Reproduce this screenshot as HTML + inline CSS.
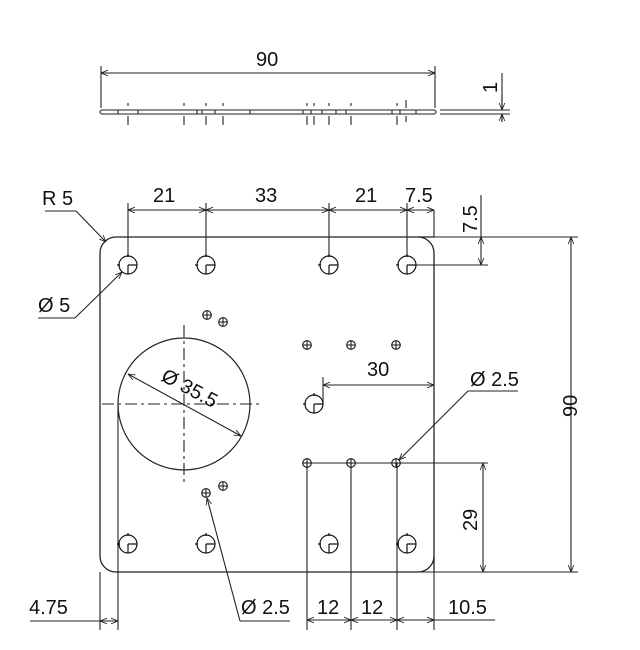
<!DOCTYPE html>
<html><head><meta charset="utf-8"><style>
html,body{margin:0;padding:0;background:#fff;}
svg{display:block;}
text{font-family:"Liberation Sans",sans-serif;font-size:20px;fill:#111;}
</style></head><body>
<svg width="640" height="650" viewBox="0 0 640 650" xmlns="http://www.w3.org/2000/svg">
<defs>
<marker id="a" viewBox="0 0 10 10" refX="10" refY="5" markerWidth="7" markerHeight="7" orient="auto-start-reverse" markerUnits="userSpaceOnUse"><path d="M0,1 L10,5 L0,9" fill="none" stroke="#222" stroke-width="1.2"/></marker>
<g id="bh"><circle r="9" fill="none" stroke="#111" stroke-width="1.2"/><path d="M0,0 H9 M0,0 V9 M-11,0 H-8 M0,-11 V-8" stroke="#111" stroke-width="1.2"/></g>
<g id="sh"><circle r="4.3" fill="none" stroke="#111" stroke-width="1.1"/><path d="M-4.3,0 H4.3 M0,-4.3 V4.3" stroke="#111" stroke-width="1"/></g>
</defs>
<g stroke="#222" stroke-width="1.1" fill="none">
<rect x="100" y="110" width="336" height="4" rx="2"/>
<path d="M440,110 H510 M440,114 H510"/>
<path d="M101,66 V108 M435,66 V108"/>
<line x1="101" y1="73" x2="435" y2="73" marker-start="url(#a)" marker-end="url(#a)"/>
<path d="M502,73 V110 M502,114 V122"/>
<line x1="502" y1="95" x2="502" y2="110" marker-end="url(#a)"/>
<line x1="502" y1="122" x2="502" y2="114" marker-end="url(#a)"/>
<path d="M128,103 V106 M128,116 V125 M184,103 V106 M184,116 V125 M206,103 V106 M206,116 V125 M223,103 V106 M223,116 V125 M307,103 V106 M307,116 V125 M314,103 V106 M314,116 V125 M329,103 V106 M329,116 V125 M351,103 V106 M351,116 V125 M397,103 V106 M397,116 V125 M406,100 V108 M406,116 V122"/>
<path d="M118,110 V114 M138,110 V114 M197,110 V114 M202,110 V114 M215,110 V114 M250,110 V114 M303,110 V114 M311,110 V114 M322,110 V114 M336,110 V114 M346,110 V114 M392,110 V114 M400,110 V114 M416,110 V114"/>
<path d="M116,237 H434 M434,253 V572 M418,572 H116 M100,556 V253" stroke-width="1.3"/>
<path d="M100,253 A16,16 0 0 1 116,237 M418,237 A16,16 0 0 1 434,253 M434,556 A16,16 0 0 1 418,572 M116,572 A16,16 0 0 1 100,556" stroke-width="1.3"/>
<path d="M434,237 H578 M434,210 V237 M407,265 H488 M418,572 H578 M434,572 V630 M100,572 V630"/>
<path d="M128,203 V256 M206,203 V256 M329,203 V256 M407,203 V256"/>
<line x1="128" y1="210" x2="206" y2="210" marker-start="url(#a)" marker-end="url(#a)"/>
<line x1="206" y1="210" x2="329" y2="210" marker-start="url(#a)" marker-end="url(#a)"/>
<line x1="329" y1="210" x2="407" y2="210" marker-start="url(#a)" marker-end="url(#a)"/>
<line x1="407" y1="210" x2="434" y2="210" marker-start="url(#a)" marker-end="url(#a)"/>
<path d="M481,195 V237"/>
<line x1="481" y1="237" x2="481" y2="265" marker-start="url(#a)" marker-end="url(#a)"/>
<line x1="571" y1="237" x2="571" y2="572" marker-start="url(#a)" marker-end="url(#a)"/>
<path d="M45,211 H76"/>
<line x1="76" y1="211" x2="106" y2="242" marker-end="url(#a)"/>
<path d="M38,318 H75"/>
<line x1="75" y1="318" x2="122" y2="272" marker-end="url(#a)"/>
<circle cx="184" cy="404" r="66" stroke-width="1.2"/>
<path d="M102,404 H262" stroke-dasharray="12,4,3,4"/>
<path d="M184,325 V486" stroke-dasharray="12,4,3,4"/>
<line x1="128" y1="374" x2="241" y2="436" marker-start="url(#a)" marker-end="url(#a)"/>
<path d="M118,404 V630"/>
<path d="M323,377 V404"/>
<line x1="323" y1="385" x2="434" y2="385" marker-start="url(#a)" marker-end="url(#a)"/>
<path d="M518,391 H468"/>
<line x1="468" y1="391" x2="399" y2="460" marker-end="url(#a)"/>
<path d="M307,463 H488 M307,463 V630 M351,463 V630 M397,463 V630"/>
<line x1="483" y1="463" x2="483" y2="572" marker-start="url(#a)" marker-end="url(#a)"/>
<line x1="307" y1="620" x2="351" y2="620" marker-start="url(#a)" marker-end="url(#a)"/>
<line x1="351" y1="620" x2="397" y2="620" marker-start="url(#a)" marker-end="url(#a)"/>
<line x1="397" y1="620" x2="434" y2="620" marker-start="url(#a)" marker-end="url(#a)"/>
<path d="M434,620 H495"/>
<path d="M30,621 H118"/>
<line x1="100" y1="621" x2="118" y2="621" marker-start="url(#a)" marker-end="url(#a)"/>
<path d="M290,621 H240"/>
<line x1="240" y1="621" x2="207" y2="498" marker-end="url(#a)"/>
</g>
<use href="#bh" x="128" y="265"/><use href="#bh" x="206" y="265"/><use href="#bh" x="329" y="265"/><use href="#bh" x="407" y="265"/>
<use href="#bh" x="128" y="544"/><use href="#bh" x="206" y="544"/><use href="#bh" x="329" y="544"/><use href="#bh" x="407" y="544"/>
<use href="#bh" x="314" y="404"/>
<use href="#sh" x="207" y="315"/><use href="#sh" x="223" y="322"/>
<use href="#sh" x="307" y="345"/><use href="#sh" x="351" y="345"/><use href="#sh" x="396" y="345"/>
<use href="#sh" x="307" y="463"/><use href="#sh" x="351" y="463"/><use href="#sh" x="396" y="463"/>
<use href="#sh" x="206" y="493"/><use href="#sh" x="223" y="486"/>
<text x="256" y="66">90</text>
<text transform="translate(497,93) rotate(-90)">1</text>
<text x="42" y="205">R 5</text>
<text x="153" y="202">21</text>
<text x="255" y="202">33</text>
<text x="355" y="202">21</text>
<text x="405" y="202">7.5</text>
<text transform="translate(477,233) rotate(-90)">7.5</text>
<text x="38" y="312">Ø 5</text>
<text transform="translate(160,380) rotate(28)">Ø 35.5</text>
<text x="367" y="376">30</text>
<text x="470" y="386">Ø 2.5</text>
<text transform="translate(577,417) rotate(-90)">90</text>
<text transform="translate(477,531) rotate(-90)">29</text>
<text x="29" y="614">4.75</text>
<text x="241" y="614">Ø 2.5</text>
<text x="317" y="614">12</text>
<text x="361" y="614">12</text>
<text x="448" y="614">10.5</text>
</svg>
</body></html>
